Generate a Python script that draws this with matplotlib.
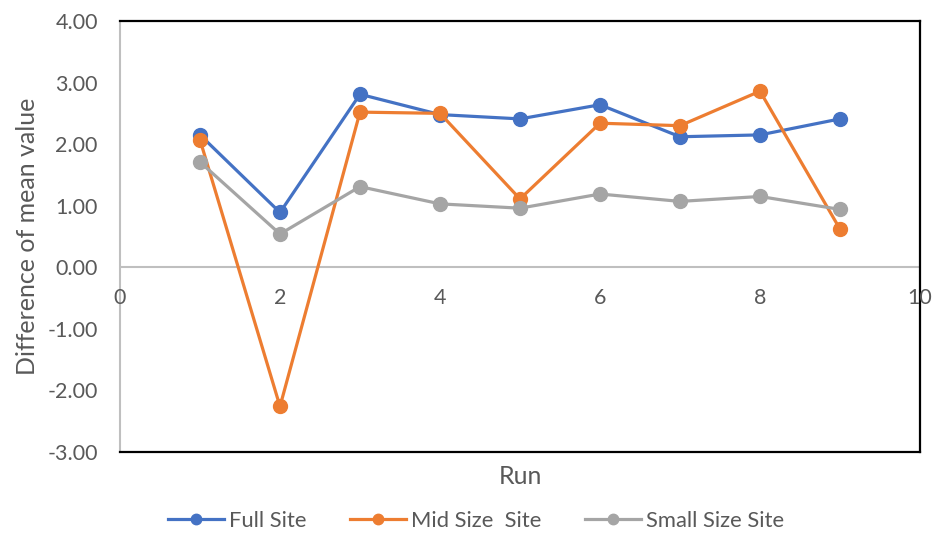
import matplotlib.pyplot as plt

# run numbers and the three series
runs = [1, 2, 3, 4, 5, 6, 7, 8, 9]
full_site = [2.15, 0.89, 2.81, 2.48, 2.41, 2.64, 2.12, 2.15, 2.41]
mid_site = [2.07, -2.26, 2.52, 2.50, 1.11, 2.34, 2.30, 2.86, 0.62]
small_site = [1.71, 0.54, 1.31, 1.03, 0.96, 1.19, 1.07, 1.15, 0.94]

series_names = ["Full Site", "Mid Size  Site", "Small Size Site"]
colors = ["#4472C4", "#ED7D31", "#A5A5A5"]

x_ticks = [0, 2, 4, 6, 8, 10]
y_ticks = [-3, -2, -1, 0, 1, 2, 3, 4]

plt.rcParams['font.family'] = ['Lato', 'DejaVu Sans']
text_col = "#595959"

fig = plt.figure(figsize=(9.34, 5.33), dpi=100)
ax = fig.add_axes([120 / 934, 1 - 452 / 533, 800 / 934, 431 / 533])

for ys, name, c in zip([full_site, mid_site, small_site], series_names, colors):
    ax.plot(runs, ys, color=c, lw=2.3, marker='o', markersize=10,
            label=name, solid_joinstyle='round', zorder=3)

ax.set_xlim(0, 10)
ax.set_ylim(-3, 4)

# zero line acts as the horizontal axis
ax.axhline(0, color="#BFBFBF", lw=1.5, zorder=1)

ax.set_yticks(y_ticks)
ax.set_yticklabels([f"{v:.2f}" for v in y_ticks], color=text_col, fontsize=15.5)
ax.tick_params(axis='y', length=0, pad=16)
ax.set_xticks(x_ticks)
ax.set_xticklabels([])
ax.tick_params(axis='x', length=0)

# x tick labels sit just under the zero line
for xv in x_ticks:
    ax.annotate(str(xv), xy=(xv, 0), xytext=(0, -15), textcoords='offset points',
                ha='center', va='top', color=text_col, fontsize=15.5)

for side in ['top', 'right', 'bottom']:
    ax.spines[side].set_color('black')
    ax.spines[side].set_linewidth(1.6)
ax.spines['left'].set_color('#BFBFBF')
ax.spines['left'].set_linewidth(1.5)

ax.set_ylabel("Difference of mean value", color=text_col, fontsize=18, labelpad=6)
ax.set_xlabel("Run", color=text_col, fontsize=18, labelpad=6)

leg = fig.legend(loc='center', bbox_to_anchor=(476 / 934, 1 - 521 / 533), ncol=3,
                 frameon=False, fontsize=15.8, handlelength=2.55, columnspacing=1.96,
                 handletextpad=0.25, markerscale=0.75)
for t in leg.get_texts():
    t.set_color(text_col)

plt.savefig("out.png", dpi=100)
